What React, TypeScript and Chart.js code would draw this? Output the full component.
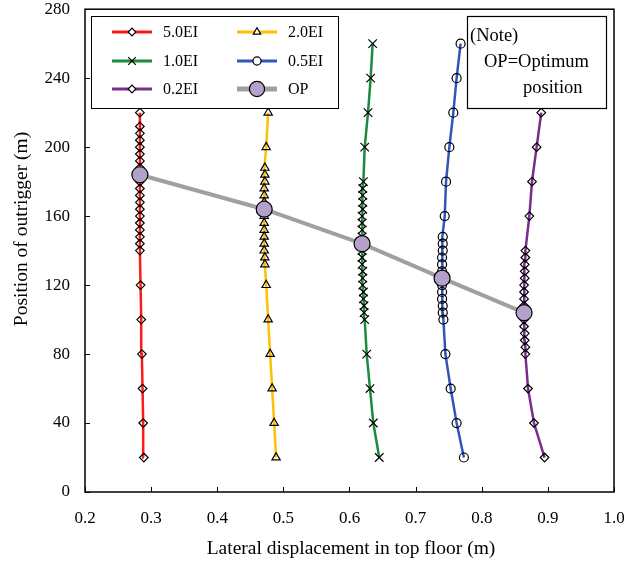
import React, { useEffect, useRef } from "react";
import { Chart, registerables } from "chart.js";
import { drawPoint } from "chart.js/helpers";

Chart.register(...registerables);

const FONT = '"Liberation Serif", "Times New Roman", serif';

const seriesNames = ["5.0EI", "2.0EI", "1.0EI", "0.5EI", "0.2EI", "OP"];

// 5.0EI
const heights50 = [20, 40, 60, 80, 100, 120, 140, 144, 148, 152, 156, 160, 164, 168, 172, 176, 180, 184, 188, 192, 196, 200, 204, 208, 212, 220];
const disp50 = [0.289, 0.288, 0.287, 0.286, 0.285, 0.284, 0.283, 0.283, 0.283, 0.283, 0.283, 0.283, 0.283, 0.283, 0.283, 0.283, 0.283, 0.283, 0.283, 0.283, 0.283, 0.283, 0.283, 0.283, 0.283, 0.283];

// 2.0EI
const heights20 = [20, 40, 60, 80, 100, 120, 132, 136, 140, 144, 148, 152, 156, 160, 164, 168, 172, 176, 180, 184, 188, 200, 220];
const disp20 = [0.489, 0.486, 0.483, 0.480, 0.477, 0.474, 0.472, 0.472, 0.471, 0.471, 0.471, 0.471, 0.471, 0.471, 0.471, 0.471, 0.471, 0.471, 0.472, 0.472, 0.472, 0.474, 0.477];

// 1.0EI
const heights10 = [20, 40, 60, 80, 100, 104, 108, 112, 116, 120, 124, 128, 132, 136, 140, 144, 148, 152, 156, 160, 164, 168, 172, 176, 180, 200, 220, 240, 260];
const disp10 = [0.645, 0.636, 0.631, 0.626, 0.623, 0.622, 0.622, 0.621, 0.621, 0.620, 0.620, 0.620, 0.619, 0.619, 0.619, 0.619, 0.619, 0.619, 0.619, 0.619, 0.620, 0.620, 0.620, 0.620, 0.621, 0.623, 0.628, 0.632, 0.635];

// 0.5EI
const heights05 = [20, 40, 60, 80, 100, 104, 108, 112, 116, 120, 124, 128, 132, 136, 140, 144, 148, 160, 180, 200, 220, 240, 260];
const disp05 = [0.773, 0.762, 0.753, 0.745, 0.742, 0.741, 0.741, 0.740, 0.740, 0.740, 0.740, 0.740, 0.740, 0.740, 0.741, 0.741, 0.741, 0.744, 0.746, 0.751, 0.757, 0.762, 0.768];

// 0.2EI
const heights02 = [20, 40, 60, 80, 84, 88, 92, 96, 100, 104, 108, 112, 116, 120, 124, 128, 132, 136, 140, 160, 180, 200, 220];
const disp02 = [0.895, 0.879, 0.870, 0.866, 0.866, 0.865, 0.865, 0.864, 0.864, 0.864, 0.864, 0.864, 0.864, 0.864, 0.865, 0.865, 0.865, 0.866, 0.866, 0.872, 0.876, 0.883, 0.890];

// Optimum position
const heightsOP = [184, 164, 144, 124, 104];
const dispOP = [0.283, 0.471, 0.619, 0.740, 0.864];

const xTickValues = [0.2, 0.3, 0.4, 0.5, 0.6, 0.7, 0.8, 0.9, 1.0];
const yTickValues = [0, 40, 80, 120, 160, 200, 240, 280];

const xTitle = "Lateral displacement in top floor (m)";
const yTitle = "Position of outrigger (m)";
const noteLines = ["(Note)", "OP=Optimum", "position"];

const colors = ["#FF1A1A", "#FFC000", "#1E8A3E", "#3355BB", "#7B2D8E", "#A0A0A0"];
const markers = ["rectRot", "triangle", "crossRot", "circle", "rectRot", "circle"];

const pts = (xs: number[], ys: number[]) => ys.map((y, i) => ({ x: xs[i], y }));

const series = [
  pts(disp50, heights50),
  pts(disp20, heights20),
  pts(disp10, heights10),
  pts(disp05, heights05),
  pts(disp02, heights02),
  pts(dispOP, heightsOP),
];

const markerRadius = [4.3, 4.8, 6, 4.5, 4.3, 8];

const zeroPad = (s: any) => {
  s.paddingTop = 0;
  s.paddingBottom = 0;
  s.paddingLeft = 0;
  s.paddingRight = 0;
};

const decorPlugin = {
  id: "decor",
  afterDatasetsDraw(chart: any) {
    const ctx = chart.ctx as CanvasRenderingContext2D;
    const { left, right, top, bottom } = chart.chartArea;
    const xs = chart.scales.x;
    const ys = chart.scales.y;
    ctx.save();
    // frame
    ctx.strokeStyle = "#000";
    ctx.lineWidth = 1.5;
    ctx.strokeRect(left, top, right - left, bottom - top);
    // inward ticks
    ctx.lineWidth = 1;
    ctx.beginPath();
    xTickValues.forEach((v) => {
      const px = Math.round(xs.getPixelForValue(v)) + 0.5;
      ctx.moveTo(px, bottom);
      ctx.lineTo(px, bottom - 5);
    });
    yTickValues.forEach((v) => {
      const py = Math.round(ys.getPixelForValue(v)) + 0.5;
      ctx.moveTo(left, py);
      ctx.lineTo(left + 5, py);
    });
    ctx.stroke();

    // legend box
    const lx0 = 91, ly0 = 16, lx1 = 338, ly1 = 108;
    ctx.fillStyle = "#fff";
    ctx.fillRect(lx0, ly0, lx1 - lx0, ly1 - ly0);
    ctx.strokeStyle = "#000";
    ctx.lineWidth = 1;
    ctx.strokeRect(lx0 + 0.5, ly0 + 0.5, lx1 - lx0, ly1 - ly0);
    const rowsY = [32, 61, 89];
    const colX = [112, 237];
    ctx.font = `16px ${FONT}`;
    ctx.textBaseline = "middle";
    ctx.textAlign = "left";
    seriesNames.forEach((name, i) => {
      const col = i % 2;
      const row = Math.floor(i / 2);
      const x0 = colX[col];
      const y = rowsY[row];
      ctx.strokeStyle = colors[i];
      ctx.lineWidth = i === 5 ? 5 : 3;
      ctx.beginPath();
      ctx.moveTo(x0, y);
      ctx.lineTo(x0 + 40, y);
      ctx.stroke();
      ctx.strokeStyle = "#000";
      ctx.lineWidth = 1.2;
      ctx.fillStyle = i === 5 ? "#B3A0CB" : "#fff";
      drawPoint(ctx, { pointStyle: markers[i], rotation: 0, radius: markerRadius[i] * (i === 5 ? 0.95 : 0.9), borderWidth: 1.2 } as any, x0 + 20, y);
      ctx.fillStyle = "#000";
      ctx.fillText(name, x0 + 51, y + 1);
    });

    // note box
    const nx0 = 467, ny0 = 16, nx1 = 606, ny1 = 108;
    ctx.fillStyle = "#fff";
    ctx.fillRect(nx0, ny0, nx1 - nx0, ny1 - ny0);
    ctx.strokeStyle = "#000";
    ctx.strokeRect(nx0 + 0.5, ny0 + 0.5, nx1 - nx0, ny1 - ny0);
    ctx.fillStyle = "#000";
    ctx.font = `18.5px ${FONT}`;
    ctx.fillText(noteLines[0], 470, 36);
    ctx.fillText(noteLines[1], 484, 62);
    ctx.fillText(noteLines[2], 523, 88);

    // axis titles
    ctx.font = `19.5px ${FONT}`;
    ctx.textAlign = "center";
    ctx.fillText(xTitle, 351, 549);
    ctx.translate(22, 229);
    ctx.rotate(-Math.PI / 2);
    ctx.fillText(yTitle, 0, 0);
    ctx.restore();
  },
};

export default function App() {
  const ref = useRef<HTMLCanvasElement | null>(null);
  useEffect(() => {
    if (!ref.current) return;
    const datasets = series.map((data, i) => ({
      label: seriesNames[i],
      data,
      showLine: true,
      borderColor: colors[i],
      borderWidth: i === 5 ? 4 : 2.5,
      pointStyle: markers[i],
      pointRadius: markerRadius[i],
      pointHoverRadius: markerRadius[i],
      pointBorderColor: "#000",
      pointBorderWidth: 1.2,
      pointBackgroundColor: i === 5 ? "#B3A0CB" : "rgba(0,0,0,0)",
      tension: 0,
      order: i === 5 ? 0 : 1,
    }));
    const chart = new Chart(ref.current, {
      type: "scatter",
      data: { datasets },
      options: {
        animation: false,
        responsive: false,
        devicePixelRatio: 1,
        layout: { padding: { top: 8, right: 23, left: 0, bottom: 0 } },
        plugins: { legend: { display: false }, tooltip: { enabled: false } },
        scales: {
          x: {
            type: "linear",
            min: 0.2,
            max: 1.0,
            afterBuildTicks: (s: any) => {
              s.ticks = xTickValues.map((v) => ({ value: v }));
            },
            afterFit: (s: any) => {
              s.height = 74;
              zeroPad(s);
            },
            grid: { display: false, drawTicks: false },
            border: { display: false },
            ticks: {
              padding: 16,
              color: "#000",
              font: { family: FONT, size: 17 },
              callback: (v: any) => Number(v).toFixed(1),
            },
          },
          y: {
            type: "linear",
            min: 0,
            max: 280,
            afterBuildTicks: (s: any) => {
              s.ticks = yTickValues.map((v) => ({ value: v }));
            },
            afterFit: (s: any) => {
              s.width = 85;
              zeroPad(s);
            },
            grid: { display: false, drawTicks: false },
            border: { display: false },
            ticks: {
              padding: 15,
              color: "#000",
              font: { family: FONT, size: 17 },
              callback: (v: any) => String(v),
            },
          },
        },
      },
      plugins: [decorPlugin],
    });
    return () => chart.destroy();
  }, []);
  return (
    <div style={{ position: "fixed", left: 0, top: 0, width: 637, height: 566, background: "#fff" }}>
      <canvas ref={ref} width={637} height={566} />
    </div>
  );
}
